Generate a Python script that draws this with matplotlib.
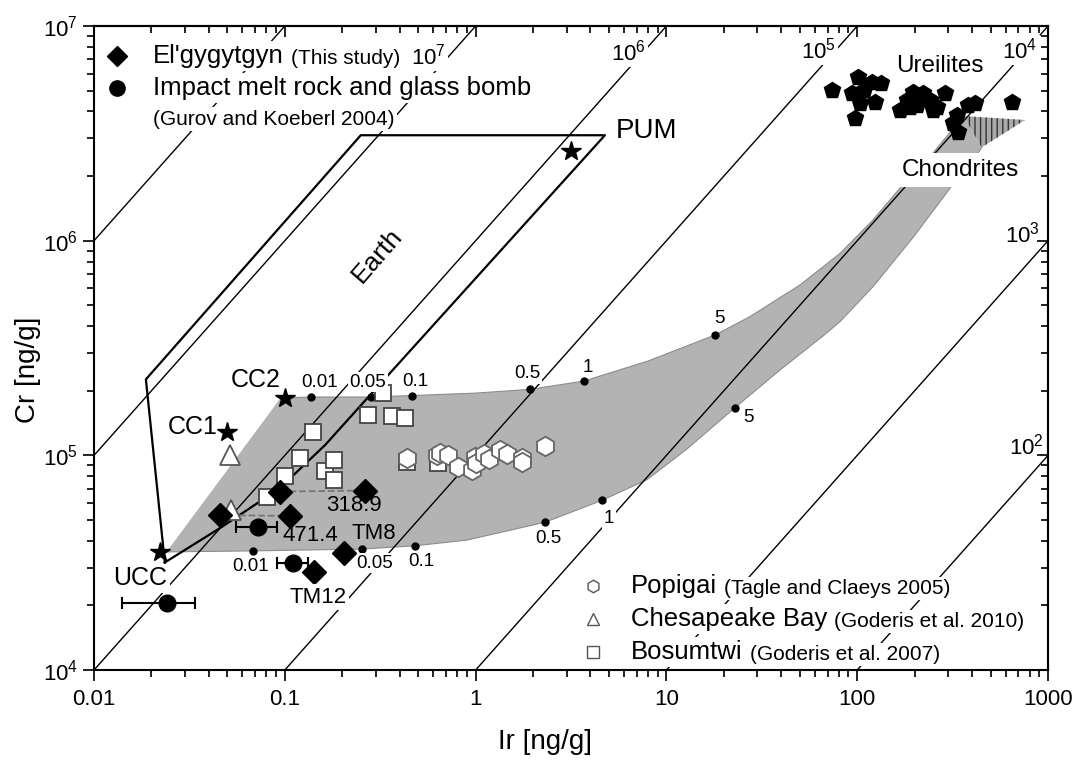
"""
Cr versus Ir plot - El'gygytgyn impact rocks, target rocks and chondrite mixing fields
"""

import numpy as np
import matplotlib.pyplot as plt
from matplotlib.ticker import LogLocator, NullFormatter

plt.rcParams['font.family'] = ['Liberation Sans', 'DejaVu Sans']
plt.rcParams['mathtext.fontset'] = 'custom'
plt.rcParams['mathtext.rm'] = 'Liberation Sans'
plt.rcParams['mathtext.it'] = 'Liberation Sans:italic'
plt.rcParams['mathtext.bf'] = 'Liberation Sans:bold'
plt.rcParams['hatch.linewidth'] = 1.0

# values (Ir and Cr in ng/g)
ratio_values = [1e8, 1e7, 1e6, 1e5, 1e4, 1e3, 1e2]
ratio_labels = ['$10^{7}$', '$10^{6}$', '$10^{5}$', '$10^{4}$', '$10^{3}$', '$10^{2}$']

x_ticks = [0.01, 0.1, 1, 10, 100, 1000]
x_tick_labels = ['0.01', '0.1', '1', '10', '100', '1000']
y_ticks = [1e4, 1e5, 1e6, 1e7]
y_tick_labels = ['$10^{4}$', '$10^{5}$', '$10^{6}$', '$10^{7}$']

# Earth field outline
earth_ir = [0.0235, 0.0469, 0.0944, 0.163, 0.28, 4.76, 0.25, 0.0187, 0.0235]
earth_cr = [3.17e4, 4.65e4, 7.05e4, 1.12e5, 1.91e5, 3.1e6, 3.1e6, 2.26e5, 3.17e4]

# mixing band, CC2 + chondrite (upper edge), UCC + chondrite (lower edge)
upper_ir = [0.095, 0.137, 0.283, 0.462, 1.0, 1.93, 3.7, 8.0, 18.0, 27.4, 50.1, 81.3, 121, 175, 245, 360]
upper_cr = [1.85e5, 1.87e5, 1.87e5, 1.9e5, 1.95e5, 2.03e5, 2.22e5, 2.75e5, 3.64e5, 4.43e5,
            6.22e5, 8.73e5, 1.25e6, 1.84e6, 2.51e6, 3.81e6]
lower_ir = [0.024, 0.0685, 0.253, 0.48, 0.9, 2.31, 4.61, 7.9, 12.8, 22.9, 39.4, 66.2, 81.3,
            121, 197, 319, 423, 449]
lower_cr = [3.55e4, 3.59e4, 3.66e4, 3.79e4, 4.03e4, 4.88e4, 6.18e4, 7.7e4, 1.07e5, 1.67e5,
            2.5e5, 3.6e5, 4.2e5, 6.11e5, 1.04e6, 1.84e6, 2.51e6, 2.72e6]

# chondrite field (hatched)
chond_ir = [360, 757, 449]
chond_cr = [3.81e6, 3.65e6, 2.72e6]

# percent chondrite marks on the mixing curves
mix_pct = ['0.01', '0.05', '0.1', '0.5', '1', '5']
upper_dot_ir = [0.137, 0.283, 0.462, 1.93, 3.7, 18.0]
upper_dot_cr = [1.87e5, 1.87e5, 1.9e5, 2.03e5, 2.22e5, 3.64e5]
lower_dot_ir = [0.0685, 0.253, 0.48, 2.31, 4.61, 22.9]
lower_dot_cr = [3.59e4, 3.66e4, 3.79e4, 4.88e4, 6.18e4, 1.67e5]

# target rocks
target_names = ['UCC', 'CC1', 'CC2', 'PUM']
target_ir = [0.0222, 0.0497, 0.1, 3.16]
target_cr = [3.56e4, 1.28e5, 1.85e5, 2.62e6]

# El'gygytgyn (this study)
elg_ir = np.array([0.0457, 0.0944, 0.1064, 0.263, 0.204, 0.142])
elg_cr = np.array([5.27e4, 6.78e4, 5.22e4, 6.86e4, 3.5e4, 2.87e4])

# impact melt rock and glass bomb (Gurov and Koeberl 2004)
melt_ir = np.array([0.0726, 0.111, 0.024])
melt_cr = np.array([4.66e4, 3.16e4, 2.05e4])
melt_lo = np.array([0.0558, 0.0906, 0.01395])
melt_hi = np.array([0.0906, 0.133, 0.0338])

# Popigai
pop_ir = [0.435, 0.625, 0.65, 0.719, 0.811, 0.955, 0.993, 1.01, 1.10, 1.17, 1.34, 1.46, 1.74, 1.74, 2.31]
pop_cr = [9.73e4, 1.0e5, 1.03e5, 1.0e5, 8.86e4, 8.55e4, 9.86e4, 9.18e4, 1.02e5, 9.6e4, 1.06e5,
          1.02e5, 9.69e4, 9.35e4, 1.11e5]

# Chesapeake Bay
chb_ir = [0.0517, 0.0525]
chb_cr = [1.0e5, 5.57e4]

# Bosumtwi
bos_ir = [0.0804, 0.100, 0.120, 0.141, 0.163, 0.182, 0.182, 0.274, 0.328, 0.363, 0.427, 0.435, 0.638]
bos_cr = [6.43e4, 7.98e4, 9.68e4, 1.28e5, 8.45e4, 9.49e4, 7.64e4, 1.55e5, 1.95e5, 1.52e5, 1.49e5,
          9.35e4, 9.25e4]

# Ureilites
ure_ir = [73.5, 101, 119, 134, 93.5, 108, 103, 124, 97.3, 167, 182, 197, 222, 241, 261, 289, 205,
          333, 382, 414, 339, 646, 250, 318, 189]
ure_cr = [5.04e6, 5.81e6, 5.5e6, 5.41e6, 4.86e6, 5.04e6, 4.37e6, 4.44e6, 3.72e6, 4.06e6, 4.52e6,
          4.94e6, 4.86e6, 4.52e6, 4.21e6, 4.86e6, 4.29e6, 3.85e6, 4.29e6, 4.37e6, 3.22e6, 4.44e6,
          4.06e6, 3.52e6, 4.21e6]

WHITE = dict(boxstyle='square,pad=0.1', fc='white', ec='none')


def ax_pos(x, y):
    # pixel position in the reference picture -> axes fraction
    return ((x - 94) / 954, (670 - y) / 644)


def add_text(ax, x, y, s, size, **kw):
    kw.setdefault('ha', 'center')
    kw.setdefault('va', 'center')
    return ax.text(*ax_pos(x, y), s, transform=ax.transAxes, fontsize=size, zorder=7, **kw)


def setup_axes(fig):
    ax = fig.add_axes([0.0873, 0.1207, 0.8858, 0.8451])
    ax.set_xscale('log')
    ax.set_yscale('log')
    ax.set_xlim(0.01, 1000)
    ax.set_ylim(1e4, 1e7)
    ax.set_xticks(x_ticks, labels=x_tick_labels)
    ax.set_yticks(y_ticks, labels=y_tick_labels)
    ax.xaxis.set_minor_locator(LogLocator(base=10, subs=(2, 3, 4, 5, 6, 7, 8, 9), numticks=20))
    ax.yaxis.set_minor_locator(LogLocator(base=10, subs=(2, 3, 4, 5, 6, 7, 8, 9), numticks=20))
    ax.xaxis.set_minor_formatter(NullFormatter())
    ax.yaxis.set_minor_formatter(NullFormatter())
    ax.tick_params(which='both', direction='out', width=1.4, labelsize=16, color='#222')
    ax.tick_params(which='major', length=8)
    ax.tick_params(which='minor', length=5)
    ax.tick_params(axis='x', pad=6)
    for sp in ax.spines.values():
        sp.set_linewidth(1.5)

    # ticks pointing inwards on top and right
    top = ax.secondary_xaxis('top')
    top.xaxis.set_major_locator(LogLocator(base=10, numticks=20))
    top.xaxis.set_minor_locator(LogLocator(base=10, subs=(2, 3, 4, 5, 6, 7, 8, 9), numticks=20))
    top.xaxis.set_major_formatter(NullFormatter())
    top.xaxis.set_minor_formatter(NullFormatter())
    top.tick_params(which='both', direction='in', width=1.4, color='#222')
    top.tick_params(which='major', length=8)
    top.tick_params(which='minor', length=5)
    right = ax.secondary_yaxis('right')
    right.yaxis.set_major_locator(LogLocator(base=10, numticks=20))
    right.yaxis.set_minor_locator(LogLocator(base=10, subs=(2, 3, 4, 5, 6, 7, 8, 9), numticks=20))
    right.yaxis.set_major_formatter(NullFormatter())
    right.yaxis.set_minor_formatter(NullFormatter())
    right.tick_params(which='both', direction='in', width=1.4, color='#222')
    right.tick_params(which='major', length=8)
    right.tick_params(which='minor', length=5)
    for sec in (top, right):
        for sp in sec.spines.values():
            sp.set_linewidth(1.5)
    return ax


def draw_fields(ax):
    # Cr/Ir ratio lines
    for r in ratio_values:
        ax.plot([0.001, 1e4], [0.001 * r, 1e4 * r], color='black', lw=1.0, zorder=2)
    label_px = [(428, 56), (628, 52), (818, 50), (1020, 50), (1022, 235), (1026, 447)]
    for (x, y), s in zip(label_px, ratio_labels):
        box = WHITE if y < 100 else None
        add_text(ax, x, y, s, 16, bbox=box)

    # mixing band
    band_ir = lower_ir + upper_ir[::-1]
    band_cr = lower_cr + upper_cr[::-1]
    ax.fill(band_ir, band_cr, facecolor='#b3b3b3', edgecolor='none', zorder=1)
    ax.plot(upper_ir, upper_cr, color='#8c8c8c', lw=0.8, zorder=1.5)
    ax.plot(lower_ir, lower_cr, color='#8c8c8c', lw=0.8, zorder=1.5)
    ax.fill(chond_ir, chond_cr, facecolor='#a8a8a8', edgecolor='#333333', hatch='|||', lw=0, zorder=1.6)

    ax.plot(upper_dot_ir, upper_dot_cr, 'o', color='black', ms=5, zorder=4)
    ax.plot(lower_dot_ir, lower_dot_cr, 'o', color='black', ms=5, zorder=4)
    upper_off = [(9, 15), (-3, 15), (4, 14), (-3, 16), (4, 14), (4, 16)]
    lower_off = [(-3, -16), (13, -14), (7, -16), (3, -16), (7, -18), (13, -10)]
    for s, x, y, off in zip(mix_pct, upper_dot_ir, upper_dot_cr, upper_off):
        ax.annotate(s, (x, y), xytext=off, textcoords='offset pixels', fontsize=13.5,
                    ha='center', va='center', bbox=WHITE, zorder=6)
    for s, x, y, off in zip(mix_pct, lower_dot_ir, lower_dot_cr, lower_off):
        box = WHITE if s != '5' else None
        ax.annotate(s, (x, y), xytext=off, textcoords='offset pixels', fontsize=13.5,
                    ha='center', va='center', bbox=box, zorder=6)

    # Earth field
    ax.plot(earth_ir, earth_cr, color='black', lw=1.6, zorder=3)


def draw_samples(ax):
    ax.plot(ure_ir, ure_cr, 'p', color='black', ms=12, zorder=5)
    ax.plot(bos_ir, bos_cr, 's', mfc='white', mec='#444444', mew=1.3, ms=11, ls='none', zorder=5)
    ax.plot(pop_ir, pop_cr, 'h', mfc='white', mec='#666666', mew=1.3, ms=14, ls='none', zorder=5)
    ax.plot(chb_ir, chb_cr, '^', mfc='white', mec='#555555', mew=1.3, ms=15, ls='none', zorder=5)

    ax.plot(elg_ir[[1, 3]], elg_cr[[1, 3]], ls='--', color='#777777', lw=1.3, zorder=4.5)
    ax.plot(elg_ir[[0, 2]], elg_cr[[0, 2]], ls='--', color='#777777', lw=1.3, zorder=4.5)
    ax.plot(elg_ir, elg_cr, 'D', color='black', ms=12, ls='none', zorder=6)

    xerr = [melt_ir - melt_lo, melt_hi - melt_ir]
    ax.errorbar(melt_ir, melt_cr, xerr=xerr, fmt='o', color='black', ms=12,
                elinewidth=1.5, capsize=4, capthick=1.5, zorder=6)

    ax.plot(target_ir, target_cr, '*', color='black', ms=15, ls='none', zorder=6)


def draw_labels(ax):
    add_text(ax, 140, 578, 'UCC', 18, bbox=WHITE)
    add_text(ax, 193, 427, 'CC1', 18)
    add_text(ax, 256, 380, 'CC2', 18)
    add_text(ax, 646, 131, 'PUM', 20)
    add_text(ax, 377, 255, 'Earth', 19, rotation=49, rotation_mode='anchor')
    add_text(ax, 940, 66, 'Ureilites', 17.5)
    add_text(ax, 960, 170, 'Chondrites', 17.5,
             bbox=dict(boxstyle='square,pad=0.25', fc='white', ec='none'))
    add_text(ax, 354, 505, '318.9', 16)
    add_text(ax, 310, 535, '471.4', 16)
    add_text(ax, 374, 533, 'TM8', 16)
    add_text(ax, 318, 597, 'TM12', 16, bbox=WHITE)

    # axis titles
    add_text(ax, 545, 742, 'Ir [ng/g]', 20)
    add_text(ax, 28, 370, 'Cr [ng/g]', 20, rotation=90)


def legend_row(ax, x, y, main, small, size):
    t = add_text(ax, x, y, main, size, ha='left', bbox=WHITE)
    if small:
        ax.annotate(small, xy=(1, 0), xycoords=t, xytext=(5, 0), textcoords='offset points',
                    fontsize=15, ha='left', va='bottom', bbox=WHITE, zorder=7)
    return t


def draw_legends(ax):
    ax.plot(*ax_pos(117, 56), 'D', color='black', ms=10, transform=ax.transAxes, zorder=7)
    ax.plot(*ax_pos(117, 88), 'o', color='black', ms=11, transform=ax.transAxes, zorder=7)
    legend_row(ax, 153, 56, "El'gygytgyn", '(This study)', 18.5)
    legend_row(ax, 153, 88, 'Impact melt rock and glass bomb', None, 18.5)
    add_text(ax, 153, 119, '(Gurov and Koeberl 2004)', 15, ha='left', bbox=WHITE)

    ax.plot(*ax_pos(593, 586), 'h', mfc='white', mec='#555555', ms=9, transform=ax.transAxes, zorder=7)
    ax.plot(*ax_pos(593, 619), '^', mfc='white', mec='#555555', ms=9, transform=ax.transAxes, zorder=7)
    ax.plot(*ax_pos(593, 652), 's', mfc='white', mec='#555555', ms=8, transform=ax.transAxes, zorder=7)
    legend_row(ax, 631, 586, 'Popigai', '(Tagle and Claeys 2005)', 18.5)
    legend_row(ax, 631, 619, 'Chesapeake Bay', '(Goderis et al. 2010)', 18.5)
    legend_row(ax, 631, 652, 'Bosumtwi', '(Goderis et al. 2007)', 18.5)


if __name__ == '__main__':
    fig = plt.figure(figsize=(10.77, 7.62), dpi=100)
    ax = setup_axes(fig)
    draw_fields(ax)
    draw_samples(ax)
    draw_labels(ax)
    draw_legends(ax)
    fig.savefig('out.png', dpi=100, facecolor='white')
